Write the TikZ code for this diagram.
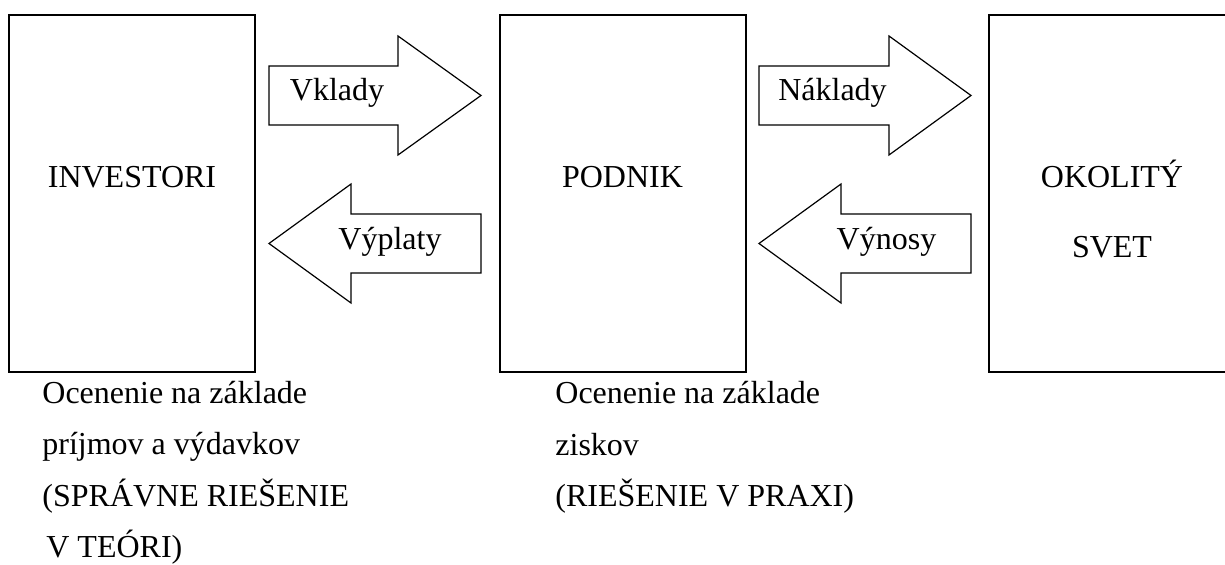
\documentclass[tikz,border=0pt]{standalone}
\usepackage{fontspec}
\setmainfont{Liberation Serif}
\usetikzlibrary{positioning, calc}
\tikzstyle{party} = [
    rectangle, 
    minimum width=123pt, 
    minimum height=178.5pt, 
    draw=black, 
    line width=1pt,
    inner sep=0pt
]
\tikzstyle{blockarrow} = [
    draw=black, 
    line width=0.6pt, 
    line join=miter,
    fill=white
]
\tikzstyle{word} = [
    inner sep=0pt, 
    anchor=base, 
    font=\fontsize{16}{26}\selectfont
]
\tikzstyle{note} = [
    inner sep=0pt, 
    anchor=base west, 
    align=left, 
    font=\fontsize{16}{25.8}\selectfont
]

\begin{document}
\begin{tikzpicture}[x=0.5pt, y=-0.5pt]
    \useasboundingbox (0,0) rectangle (1225,565);
    
    % Boxes
    \node (investori) [party] at (132,193.5) {};
    \node (podnik) [party] at (622.5,193.5) {};
    \node (okolie) [party] at (1112,193.5) {};
    
    % Box texts (multi-line nodes sit on their last line)
    \node (investori_txt) [word] at (132,188) {INVESTORI};
    \node (podnik_txt) [word] at (622.5,188) {PODNIK};
    \node (okolie_txt) [word, align=center, font=\fontsize{16}{35}\selectfont] at (1112,258) {OKOLITÝ\\SVET};
    
    % Block arrows between the boxes
    \coordinate (vklady_tail) at (269,66);
    \coordinate (vyplaty_tip) at (269,243.5);
    \coordinate (naklady_tail) at (759,66);
    \coordinate (vynosy_tip) at (759,243.5);
    
    \draw [blockarrow] (vklady_tail) -- ++(129,0) -- ++(0,-30) -- ++(83,59.5) -- ++(-83,59.5) -- ++(0,-30) -- ++(-129,0) -- cycle;
    \draw [blockarrow] (vyplaty_tip) -- ++(82,-59.5) -- ++(0,30) -- ++(130,0) -- ++(0,59) -- ++(-130,0) -- ++(0,30) -- cycle;
    \draw [blockarrow] (naklady_tail) -- ++(130,0) -- ++(0,-30) -- ++(82,59.5) -- ++(-82,59.5) -- ++(0,-30) -- ++(-130,0) -- cycle;
    \draw [blockarrow] (vynosy_tip) -- ++(82,-59.5) -- ++(0,30) -- ++(130,0) -- ++(0,59) -- ++(-130,0) -- ++(0,30) -- cycle;
    
    % Arrow labels
    \node (vklady) [word] at (337,101) {Vklady};
    \node (vyplaty) [word] at (390,250) {Výplaty};
    \node (naklady) [word] at (832.5,101) {Náklady};
    \node (vynosy) [word] at (886.5,250) {Výnosy};
    
    % Notes below the boxes
    \node (teoria) [note] at (42,558) {Ocenenie na základe\\príjmov a výdavkov\\(SPRÁVNE RIEŠENIE\\\hspace*{2pt}V TEÓRI)};
    \node (prax) [note] at (555,507) {Ocenenie na základe\\ziskov\\(RIEŠENIE V PRAXI)};
\end{tikzpicture}
\end{document}
